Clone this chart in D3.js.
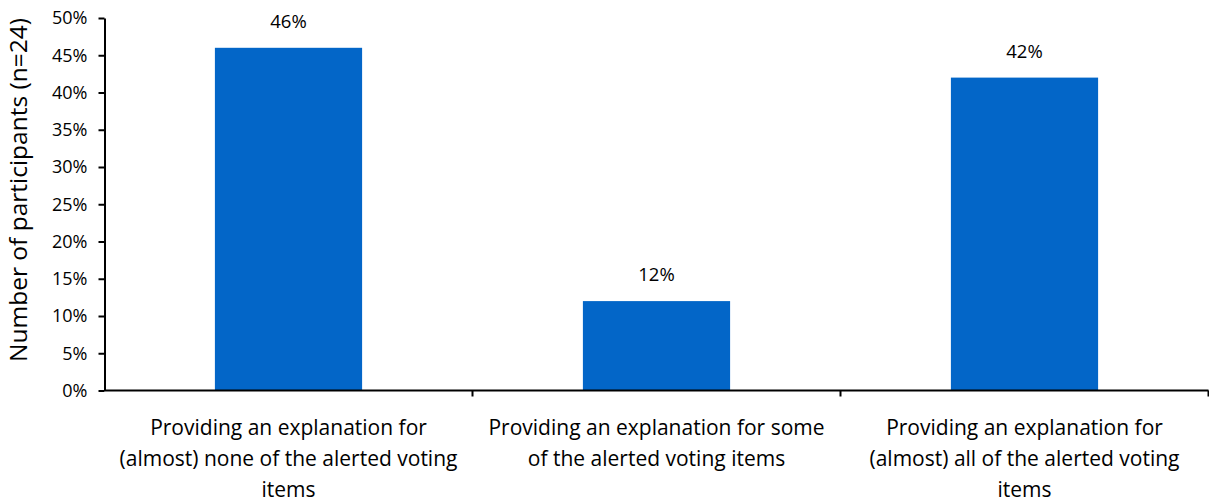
<!DOCTYPE html>
<html>
<head>
<meta charset="utf-8">
<script src="https://cdn.jsdelivr.net/npm/d3@7"></script>
<style>
  body { margin: 0; background: #fff; }
  svg { font-family: "Open Sans", sans-serif; }
</style>
</head>
<body>
<svg id="chart" width="1209" height="504"></svg>
<script>
// chart data
const categories = [
    ["Providing an explanation for", "(almost) none of the alerted voting", "items"],
    ["Providing an explanation for some", "of the alerted voting items"],
    ["Providing an explanation for", "(almost) all of the alerted voting", "items"],
]
const values = [46, 12, 42]
const yTicks = [0, 5, 10, 15, 20, 25, 30, 35, 40, 45, 50]
const yTitle = "Number of participants (n=24)"

let svg = d3.select("#chart")
let margin = { left: 104.5, right: 1208.5, top: 18, bottom: 390.5 }

let x = d3.scaleBand().domain(d3.range(categories.length)).range([margin.left, margin.right]).paddingInner(0)
let y = d3.scaleLinear().domain([0, 50]).range([margin.bottom, margin.top])

let barW = x.bandwidth() * 0.4

// bars
svg.append("g")
    .selectAll("rect")
    .data(values)
    .enter()
    .append("rect")
    .attr("x", (d, i) => x(i) + x.bandwidth() / 2 - barW / 2)
    .attr("y", (d) => y(d))
    .attr("width", barW)
    .attr("height", (d) => y(0) - y(d))
    .attr("fill", "#0366c8")

// value labels
svg.append("g")
    .selectAll("text")
    .data(values)
    .enter()
    .append("text")
    .attr("x", (d, i) => x(i) + x.bandwidth() / 2)
    .attr("y", (d) => y(d) - 20)
    .attr("text-anchor", "middle")
    .attr("font-size", "18.5px")
    .attr("fill", "#000")
    .text((d) => d + "%")

// y axis
let yAxis = svg.append("g")
    .attr("transform", "translate(" + margin.left + ",0)")
    .call(d3.axisLeft(y).tickValues(yTicks).tickFormat((d) => d + "%").tickSize(6).tickSizeOuter(0))
yAxis.selectAll("text").attr("font-size", "18px").attr("font-family", "'Open Sans', sans-serif").attr("fill", "#000").attr("x", -17)
yAxis.selectAll("line").attr("stroke", "#000").attr("stroke-width", 2)
yAxis.select(".domain").attr("stroke", "#000").attr("stroke-width", 2)

// x axis line and ticks at category boundaries
let xAxis = svg.append("g").attr("transform", "translate(0," + margin.bottom + ")")
xAxis.append("line")
    .attr("x1", margin.left).attr("x2", margin.right)
    .attr("stroke", "#000").attr("stroke-width", 2)
xAxis.selectAll("line.tick")
    .data(d3.range(1, categories.length + 1))
    .enter()
    .append("line")
    .attr("class", "tick")
    .attr("x1", (d) => x(d - 1) + x.bandwidth())
    .attr("x2", (d) => x(d - 1) + x.bandwidth())
    .attr("y1", 0).attr("y2", 6)
    .attr("stroke", "#000").attr("stroke-width", 2)

// category labels
let catLabels = svg.append("g")
    .selectAll("text")
    .data(categories)
    .enter()
    .append("text")
    .attr("x", (d, i) => x(i) + x.bandwidth() / 2)
    .attr("y", 435)
    .attr("text-anchor", "middle")
    .attr("font-size", "21px")
    .attr("fill", "#000")
catLabels.selectAll("tspan")
    .data((d) => d)
    .enter()
    .append("tspan")
    .attr("x", function () { return d3.select(this.parentNode).attr("x") })
    .attr("dy", (d, i) => (i === 0 ? 0 : 31))
    .text((d) => d)

// y title
svg.append("text")
    .attr("transform", "translate(27," + 190 + ") rotate(-90)")
    .attr("text-anchor", "middle")
    .attr("font-size", "24.5px")
    .attr("fill", "#000")
    .text(yTitle)
</script>
</body>
</html>
